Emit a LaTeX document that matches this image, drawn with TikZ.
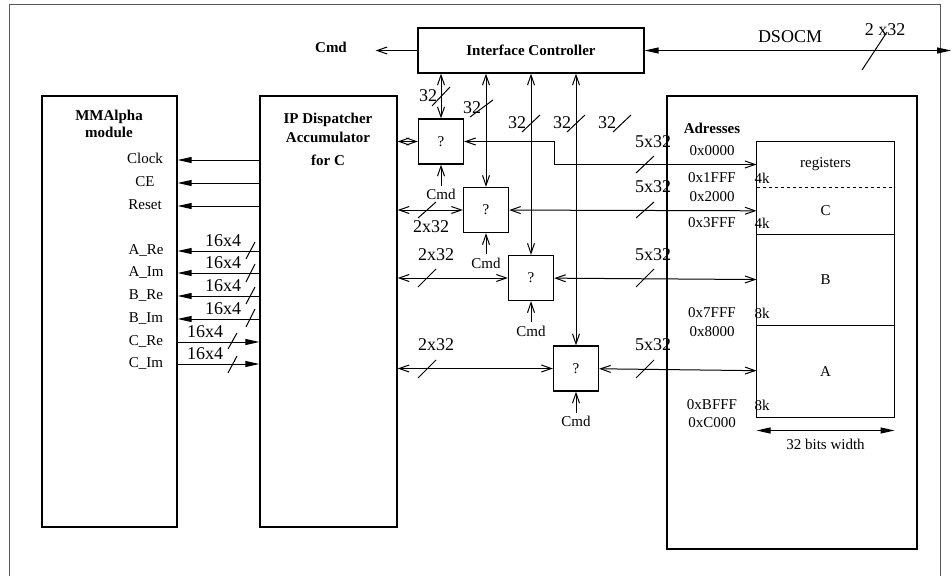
\documentclass[tikz,border=0pt]{standalone}
\usepackage{fontspec}
\setmainfont{Liberation Serif}
\usetikzlibrary{positioning,arrows.meta}

\begin{document}
\begin{tikzpicture}[x=1pt, y=-1pt, line width=1pt,
    every node/.style={font=\fontsize{15}{17}\selectfont},
    bold/.style={font=\fontsize{15}{17}\selectfont\bfseries},
    box/.style={draw, line width=1.3pt, inner sep=0pt},
    sel/.style={box, minimum size=45pt},
    sect/.style={inner sep=0pt, minimum width=137pt},
    wid/.style={font=\fontsize{18}{20}\selectfont, inner sep=0pt},
    sig/.style={text height=10pt, text depth=3pt, inner sep=0pt},
    >={Straight Barb[length=10pt,width=7pt]},
    tri/.tip={Triangle[length=14pt,width=6pt]}]
    \useasboundingbox (0,0) rectangle (952,575);
    % Cadre
    \draw[gray!70!black] (9,580) -- (9,5) -- (940,5) -- (940,580);
    % Blocs
    \node[box, minimum width=135pt, minimum height=431pt] (mma) at (109.5,311.5) {};
    \node[box, minimum width=137pt, minimum height=431pt] (disp) at (328.5,311.5) {};
    \node[box, bold, minimum width=226pt, minimum height=45pt] (ctrl) at (531,50.5) {Interface Controller};
    \node[box, minimum width=250pt, minimum height=453pt] (adr) at (792,322.5) {};
    \node[bold, align=center] (mmat) at (109,123.5) {MMAlpha\\module};
    \node[bold, align=center, font=\fontsize{15}{19}\selectfont\bfseries] (dispt) at (328,139) {IP Dispatcher\\Accumulator\\[4pt]for C};
    \node[bold] (adrt) at (712,128) {Adresses};
    % Memoire
    \node[sect, minimum height=45pt] (regs) at (825.5,164.5) {registers};
    \node[sect, minimum height=46pt, below=0pt of regs] (secC) {C};
    \node[sect, minimum height=90pt, below=0pt of secC] (secB) {B};
    \node[sect, minimum height=91pt, below=0pt of secB] (secA) {A};
    \draw[line width=1.3pt] (regs.north west) rectangle (secA.south east);
    \draw[dashed] (regs.south west) -- (regs.south east);
    \draw (secC.south west) -- (secC.south east);
    \draw (secB.south west) -- (secB.south east);
    \draw[tri-tri] ([yshift=-13pt]secA.south west) -- ([yshift=-13pt]secA.south east)
        node[midway, below=5pt] (bitw) {32 bits width};
    % Adresses
    \node (a0) at (712,151) {0x0000};
    \node (a1) at (712,178) {0x1FFF};
    \node (a2) at (712,197) {0x2000};
    \node (a3) at (712,223) {0x3FFF};
    \node (a4) at (712,313) {0x7FFF};
    \node (a5) at (712,332) {0x8000};
    \node (a6) at (712,405) {0xBFFF};
    \node (a7) at (712,423) {0xC000};
    \node (k1) at (762,178) {4k};
    \node (k2) at (762,223) {4k};
    \node (k3) at (762,313) {8k};
    \node (k4) at (762,405) {8k};
    % Selecteurs
    \node[sel] (q1) at (441,141.5) {?};
    \node[sel] (q2) at (486,210) {?};
    \node[sel] (q3) at (531,278) {?};
    \node[sel] (q4) at (576,368.5) {?};
    \node[below=21pt of q1] (c1) {Cmd};
    \node[below=21pt of q2] (c2) {Cmd};
    \node[below=21pt of q3] (c3) {Cmd};
    \node[below=21pt of q4] (c4) {Cmd};
    \draw[->] (c1) -- (q1);
    \draw[->] (c2) -- (q2);
    \draw[->] (c3) -- (q3);
    \draw[->] (c4) -- (q4);
    % Controleur
    \node[bold] (cmd) at (331,47) {Cmd};
    \draw[->, shorten >=25pt] (ctrl.west) -- (cmd.east |- ctrl.west);
    \coordinate (dsout) at (951,50.5);
    \draw[tri-tri] (ctrl) -- (dsout);
    \node[wid] at (790,37) {DSOCM};
    \node[wid] at (885,30) {2 x32};
    \draw (862,70) -- (887,32);
    \draw[<->] (ctrl.south -| q1) -- (q1);
    \draw[<->] (ctrl.south -| q2) -- (q2);
    \draw[<->] (ctrl.south -| q3) -- (q3);
    \draw[<->] (ctrl.south -| q4) -- (q4);
    \node[wid] at (428,96) {32};
    \draw (432,106) -- (450,87);
    \node[wid] at (472,108) {32};
    \draw (470,117) -- (493,100);
    \node[wid] at (517,123) {32};
    \draw (522,132) -- (540,115);
    \node[wid] at (562,123) {32};
    \draw (567,132) -- (585,115);
    \node[wid] at (607,123) {32};
    \draw (613,132) -- (631,115);
    % Bus vers le dispatcher
    \draw[<->] (disp.east |- q1) -- (q1);
    \draw[<->] (disp.east |- q2) -- (q2);
    \draw[<->] (disp.east |- q3) -- (q3);
    \draw[<->] (disp.east |- q4) -- (q4);
    \node[wid] at (431,227) {2x32};
    \draw (418,218) -- (436,202);
    \node[wid] at (436,255) {2x32};
    \draw (418,287) -- (436,269);
    \node[wid] at (436,345) {2x32};
    \draw (418,378) -- (436,360);
    % Bus vers la memoire
    \draw[<->] (q1) -- (q3.east |- q1) |- (regs);
    \draw[<->] (q2) -- (secC);
    \draw[<->] (q3) -- (secB);
    \draw[<->] (q4) -- (secA);
    \node[wid] at (653,142) {5x32};
    \draw (636,173) -- (654,156);
    \node[wid] at (653,187) {5x32};
    \draw (636,218) -- (654,202);
    \node[wid] at (653,255) {5x32};
    \draw (636,287) -- (654,269);
    \node[wid] at (653,345) {5x32};
    \draw (636,378) -- (654,360);
    % Signaux MMAlpha
    \node[sig] (clk) at (145,160) {Clock};
    \node[sig] (ce) at (145,183) {CE};
    \node[sig] (rst) at (145,206) {Reset};
    \node[sig] (are) at (146,251) {A\_Re};
    \node[sig] (aim) at (146,273) {A\_Im};
    \node[sig] (bre) at (146,296) {B\_Re};
    \node[sig] (bim) at (146,319) {B\_Im};
    \node[sig] (cre) at (146,342) {C\_Re};
    \node[sig] (cim) at (146,364) {C\_Im};
    \draw[-tri] (clk -| disp.west) -- (clk -| mma.east);
    \draw[-tri] (ce -| disp.west) -- (ce -| mma.east);
    \draw[-tri] (rst -| disp.west) -- (rst -| mma.east);
    \draw[-tri] (are -| disp.west) -- (are -| mma.east);
    \draw[-tri] (aim -| disp.west) -- (aim -| mma.east);
    \draw[-tri] (bre -| disp.west) -- (bre -| mma.east);
    \draw[-tri] (bim -| disp.west) -- (bim -| mma.east);
    \draw[-tri] (cre -| mma.east) -- (cre -| disp.west);
    \draw[-tri] (cim -| mma.east) -- (cim -| disp.west);
    \node[wid] at (223,241) {16x4};
    \draw (246,259) -- (255,242);
    \node[wid] at (223,263) {16x4};
    \draw (246,282) -- (255,264);
    \node[wid] at (223,286) {16x4};
    \draw (246,304) -- (255,287);
    \node[wid] at (223,309) {16x4};
    \draw (246,327) -- (255,309);
    \node[wid] at (205,332) {16x4};
    \draw (228,349) -- (237,333);
    \node[wid] at (205,354) {16x4};
    \draw (228,373) -- (237,356);
\end{tikzpicture}
\end{document}
